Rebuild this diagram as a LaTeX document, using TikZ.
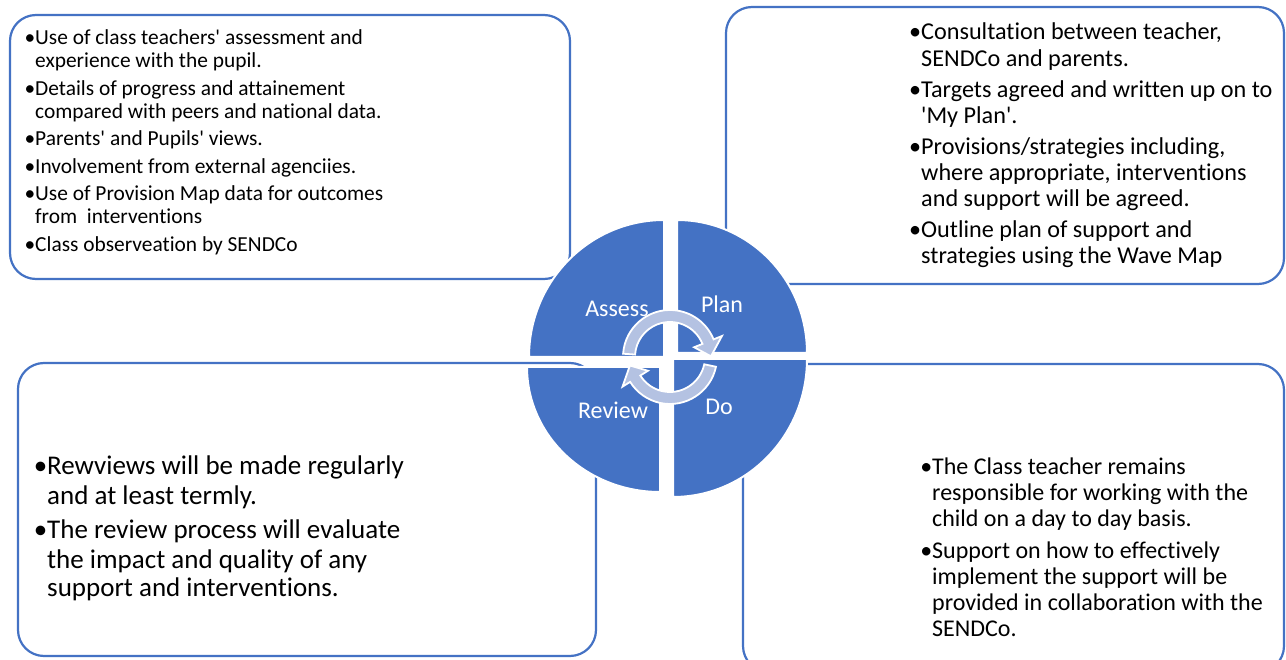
\documentclass[tikz,border=0pt]{standalone}
\usepackage{fontspec}
\setmainfont{Carlito}[Ligatures={TeXOff,CommonOff}]
\definecolor{sablue}{HTML}{4472C4}
\definecolor{arrowlt}{HTML}{B4C2E2}
\newcommand{\mybul}{\llap{•}}
\begin{document}
\begin{tikzpicture}[x=1pt,y=-1pt,
  box/.style={draw=sablue, line width=2.2pt, fill=white, rounded corners=26pt},
  quad/.style={fill=sablue, draw=white, line width=2pt},
  cyc/.style={fill=arrowlt, draw=white, line width=1.8pt, line join=miter},
  tlt/.style={anchor=base west, inner sep=0pt, font=\fontsize{21.4}{23}\selectfont},
  trt/.style={anchor=base west, inner sep=0pt, font=\fontsize{24.2}{26}\selectfont},
  blt/.style={anchor=base west, inner sep=0pt, font=\fontsize{27}{30}\selectfont},
  brt/.style={anchor=base west, inner sep=0pt, font=\fontsize{24}{26}\selectfont},
  lab/.style={text=white, inner sep=0pt, font=\fontsize{24}{26}\selectfont}]
\useasboundingbox (0,0) rectangle (1286,660);
\fill[white] (0,0) rectangle (1286,660);
% boxes
\draw[box] (10,15) rectangle (570,279);
\draw[box] (726,7) rectangle (1284,284);
\draw[box] (18,363) rectangle (596,656);
\draw[box] (743,364) rectangle (1284,672);
% quadrants
\draw[quad] (664,357) -- (529,357) arc[start angle=180, end angle=270, x radius=135, y radius=137] -- cycle;
\draw[quad] (677,353) -- (677,220) arc[start angle=270, end angle=360, x radius=130, y radius=133] -- cycle;
\draw[quad] (673,359) -- (807,359) arc[start angle=0, end angle=90, x radius=134, y radius=138] -- cycle;
\draw[quad] (660,367) -- (660,492) arc[start angle=90, end angle=180, x radius=133, y radius=125] -- cycle;
% cycle arrows
\begin{scope}[shift={(670,357)}, yscale=-1]
\draw[cyc] (176:47) arc[start angle=176, end angle=22, radius=47] -- (22:56) -- (1:41) -- (22:26) -- (22:35) arc[start angle=22, end angle=176, radius=35] -- cycle;
\draw[cyc] (-12:47) arc[start angle=-12, end angle=-148, radius=47] -- (-148:56) -- (-168:41) -- (-148:26) -- (-148:35) arc[start angle=-148, end angle=-12, radius=35] -- cycle;
\end{scope}
% labels
\node[lab] (lassess) at (617,309) {Assess};
\node[lab] (lplan) at (722,304) {Plan};
\node[lab] (lreview) at (613,410) {Review};
\node[lab] (ldo) at (719,407) {Do};
% top-left text
\node[tlt] (tl1) at (35,45) {\mybul Use of class teachers' assessment and};
\node[tlt] (tl2) at (35,68) {experience with the pupil.};
\node[tlt] (tl3) at (35,95.5) {\mybul Details of progress and attainement};
\node[tlt] (tl4) at (35,118.5) {compared with peers and national data.};
\node[tlt] (tl5) at (35,146) {\mybul Parents' and Pupils' views.};
\node[tlt] (tl6) at (35,173.5) {\mybul Involvement from external agenciies.};
\node[tlt] (tl7) at (35,201) {\mybul Use of Provision Map data for outcomes};
\node[tlt] (tl8) at (35,224) {from\ \ interventions};
\node[tlt] (tl9) at (35,251.5) {\mybul Class observeation by SENDCo};
% top-right text
\node[trt] (tr1) at (921,40) {\mybul Consultation between teacher,};
\node[trt] (tr2) at (921,66.5) {SENDCo and parents.};
\node[trt] (tr3) at (921,97.5) {\mybul Targets agreed and written up on to};
\node[trt] (tr4) at (921,124) {'My Plan'.};
\node[trt] (tr5) at (921,155) {\mybul Provisions/strategies including,};
\node[trt] (tr6) at (921,181) {where appropriate, interventions};
\node[trt] (tr7) at (921,207) {and support will be agreed.};
\node[trt] (tr8) at (921,238) {\mybul Outline plan of support and};
\node[trt] (tr9) at (921,264) {strategies using the Wave Map};
% bottom-left text
\node[blt] (bl1) at (47,475) {\mybul Rewviews will be made regularly};
\node[blt] (bl2) at (47,504) {and at least termly.};
\node[blt] (bl3) at (47,538) {\mybul The review process will evaluate};
\node[blt] (bl4) at (47,568) {the impact and quality of any};
\node[blt] (bl5) at (47,596) {support and interventions.};
% bottom-right text
\node[brt] (br1) at (932,474) {\mybul The Class teacher remains};
\node[brt] (br2) at (932,500) {responsible for working with the};
\node[brt] (br3) at (932,526) {child on a day to day basis.};
\node[brt] (br4) at (932,558) {\mybul Support on how to effectively};
\node[brt] (br5) at (932,584) {implement the support will be};
\node[brt] (br6) at (932,610) {provided in collaboration with the};
\node[brt] (br7) at (932,636) {SENDCo.};
\end{tikzpicture}
\end{document}
